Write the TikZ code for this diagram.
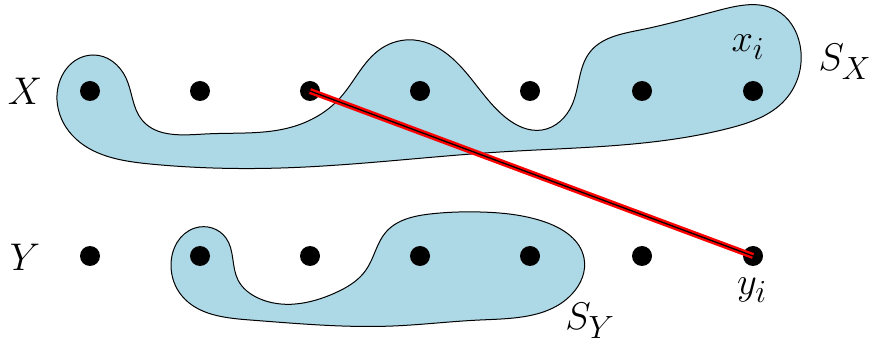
\documentclass[tikz,border=0pt]{standalone}
\usetikzlibrary{hobby}
\newcommand{\lblmath}[1]{\scalebox{1.55}{\Huge$#1$}}
\begin{document}
\begin{tikzpicture}[x=1pt,y=-1pt,
  dot/.style={circle,fill=black,inner sep=0pt,minimum size=20pt},
  blob/.style={draw=black,line width=1pt,fill=blobc},
  lbl/.style={inner sep=0pt}]
\definecolor{blobc}{RGB}{173,216,230}
\useasboundingbox (0,0) rectangle (876,347);
% S_X blob
\draw[blob,use Hobby shortcut,closed=true]
 (57,100) .. (93,55) .. (126,78) .. (142,120) .. (205,134) .. (292,127) .. (340,98)
 .. (382,48) .. (414,40) .. (452,58) .. (505,117) .. (542,130) .. (572,105)
 .. (590,52) .. (640,30) .. (720,10) .. (776,10) .. (800,45) .. (785,100)
 .. (730,128) .. (500,152) .. (281,168) .. (150,164) .. (72,135);
% S_Y blob
\draw[blob,use Hobby shortcut,closed=true]
 (171,265) .. (195,228) .. (226,238) .. (238,280) .. (258,298) .. (335,293)
 .. (366,270) .. (386,232) .. (430,214) .. (480,212) .. (545,222) .. (584,258)
 .. (572,294) .. (480,320) .. (393,326) .. (250,320) .. (182,296);
% dots
\foreach \i/\x in {1/90,2/200,3/310,4/420,5/530,6/642,7/753}{
  \node[dot] (x\i) at (\x,91) {};
  \node[dot] (y\i) at (\x,256) {};
}
% edge
\draw[red,line width=6pt] (x3.center) -- (y7.center);
\draw[black,line width=1.3pt] (x3.center) -- (y7.center);
% labels
\node[lbl] (lX) at (25,91) {\lblmath{X}};
\node[lbl] (lY) at (25,257) {\lblmath{Y}};
\node[lbl] (lxi) at (748,47) {\lblmath{x_i}};
\node[lbl] (lSX) at (845,62) {\lblmath{S_X}};
\node[lbl] (lyi) at (752,290) {\lblmath{y_i}};
\node[lbl] (lSY) at (590,321) {\lblmath{S_Y}};
\end{tikzpicture}
\end{document}
